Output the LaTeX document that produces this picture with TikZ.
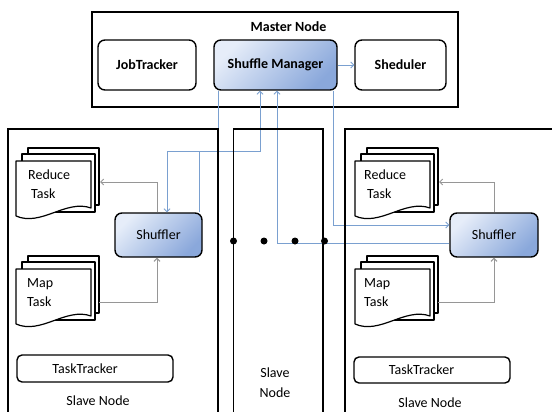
\documentclass[tikz,border=0pt]{standalone}
\usepackage{fontspec}
\setmainfont{Carlito}
\usetikzlibrary{arrows.meta}

\definecolor{linkblue}{RGB}{122,160,208}
\definecolor{shadelight}{RGB}{230,237,249}
\definecolor{shadedark}{RGB}{138,168,219}
\definecolor{flowgray}{RGB}{150,150,150}
\newcommand\figfont{\fontsize{14}{17}\selectfont}

\tikzset{
  roundbox/.style={draw=black, line width=1.4pt, rounded corners=7pt, fill=white,
                   inner sep=0pt, font=\figfont},
  boldbox/.style={roundbox, font=\figfont\bfseries},
  shadedbox/.style={roundbox, top color=shadelight, bottom color=shadedark, shading angle=45},
  slavebox/.style={draw=black, line width=1.4pt},
  docpage/.style={draw=black, line width=1.2pt, fill=white, line join=round},
  label/.style={font=\figfont, inner sep=0pt},
  link/.style={draw=linkblue, line width=0.8pt, -{Straight Barb[length=3pt,width=6pt]}},
  flow/.style={draw=flowgray, line width=1pt, -{Straight Barb[length=3pt,width=6pt]}},
  dotmark/.style={circle, fill=black, minimum size=7pt, inner sep=0pt},
}

% stack of three pages with a wavy front page
% #1 name, #2 offset, #3 first word, #4 second word, #5 x of first word, #6 x of second word
\newcommand\taskstack[6]{%
  \begin{scope}[shift={#2}]
    \draw[docpage] (12,-13) rectangle (83,44);
    \draw[docpage] (6,-7) rectangle (79,51);
    \draw[docpage] (0,0) -- (75,0) -- (75,47) .. controls (50,38) and (25,66) .. (0,55) -- cycle;
    \node[label, anchor=base west] (#1) at (#5,18) {#3};
    \node[label, anchor=base west] (#1-2) at (#6,37) {#4};
    \coordinate (#1-in) at (84,21);
    \coordinate (#1-out) at (83,33);
  \end{scope}}

\begin{document}
\begin{tikzpicture}[x=1pt,y=-1pt]
\useasboundingbox (0,0) rectangle (552,412);

% master node
\node[draw=black, line width=1.6pt, minimum width=366pt, minimum height=95pt, inner sep=0pt]
  (master) at (275,59.5) {};
\node[label, font=\figfont\bfseries, anchor=base] (mtitle) at (288.5,32) {Master Node};
\node[boldbox, minimum width=98pt, minimum height=50pt] (jt) at (147,65) {JobTracker};
\node[shadedbox, font=\figfont\bfseries, minimum width=123pt, minimum height=50pt] (sm) at (275.5,65) {Shuffle Manager};
\node[boldbox, minimum width=91pt, minimum height=50pt] (sch) at (400.5,65) {Sheduler};
\draw[link] (sm.east) -- (sch.west);

% shufflers
\node[shadedbox, minimum width=87pt, minimum height=44pt] (lsh) at (158.5,235) {Shuffler};
\node[shadedbox, minimum width=88pt, minimum height=44pt] (rsh) at (494,235) {Shuffler};

% links between the shuffle manager and the shufflers
\coordinate (b1) at (218,151);
\coordinate (b2) at (167,151);
\coordinate (b3) at (199,151);
\coordinate (b4) at (260,151);
\coordinate (b5) at (333,225);
\coordinate (b6) at (277,243);
\draw[link] (sm.south -| b1) -- (b1) -- (b2) -- (lsh.north -| b2);
\draw[link] (lsh.north -| b3) -- (b3) -- (b4) -- (sm.south -| b4);
\draw[link] (sm.south -| b5) -- (b5) -- (rsh.west |- b5);
\draw[link] (rsh.west |- b6) -- (b6) -- (sm.south -| b6);

% slave node frames
\draw[slavebox] (8,416) -- (8,129) -- (218,129) -- (218,416);
\draw[slavebox] (233.5,416) -- (233.5,129) -- (323,129) -- (323,416);
\draw[slavebox] (345,416) -- (345,129) -- (556,129);

% dots between the slaves
\node[dotmark] (d1) at (233.5,241) {};
\node[dotmark] (d2) at (264,241) {};
\node[dotmark] (d3) at (295,241) {};
\node[dotmark] (d4) at (324.5,241) {};

% left slave
\taskstack{lred}{(16,161)}{Reduce}{Task}{12}{15}
\taskstack{lmap}{(16,269)}{Map}{Task}{11}{11}
\draw[flow] (lsh.north -| 157,0) |- (lred-in);
\draw[flow] (lmap-out) -| (lsh.south -| 157,0);
\node[roundbox, rounded corners=5pt, minimum width=156pt, minimum height=27pt] (ltt) at (95,368.5) {};
\node[label] (lttl) at (85,368.5) {TaskTracker};
\node[label, anchor=base] (lsn) at (98,405) {Slave Node};

% middle slave
\node[label, anchor=base] (msn1) at (275,377) {Slave};
\node[label, anchor=base] (msn2) at (275,397) {Node};

% right slave
\taskstack{rred}{(355,161)}{Reduce}{Task}{9}{12}
\taskstack{rmap}{(355,269)}{Map}{Task}{9}{9}
\draw[flow] (rsh.north -| 494,0) |- (rred-in);
\draw[flow] (rmap-out) -| (rsh.south -| 494,0);
\node[roundbox, rounded corners=5pt, minimum width=156pt, minimum height=26pt] (rtt) at (432,370) {};
\node[label] (rttl) at (421.5,370) {TaskTracker};
\node[label, anchor=base] (rsn) at (430,407) {Slave Node};
\end{tikzpicture}
\end{document}
